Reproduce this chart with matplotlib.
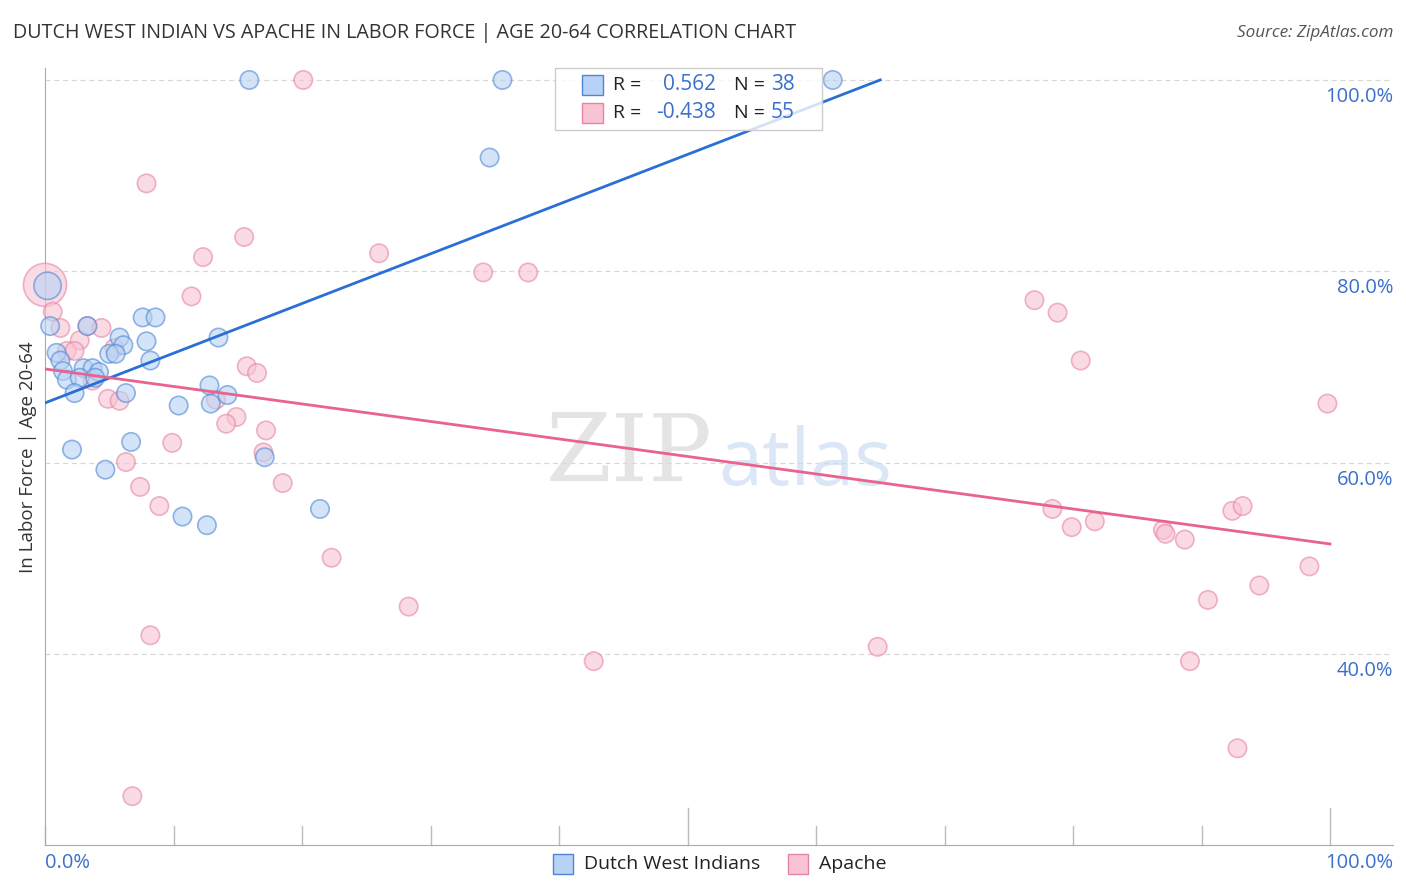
import matplotlib
matplotlib.use("Agg")
import matplotlib.pyplot as plt
import numpy as np
from matplotlib.patches import Rectangle

plt.rcParams['font.family'] = ['Open Sans', 'DejaVu Sans']

# ---- data (percent) ----
dwi_x = [15.9, 35.6, 61.3, 34.6, 0.2, 0.4, 3.3, 7.6, 8.6, 5.8, 7.9, 13.5, 6.1, 0.9,
         5.0, 5.5, 8.2, 1.2, 1.4, 3.0, 3.7, 4.2, 1.7, 2.7, 3.9, 2.3, 6.3, 12.8, 14.2,
         10.4, 12.9, 2.1, 6.7, 17.1, 4.7, 21.4, 10.7, 12.6]
dwi_y = [100.0, 100.0, 100.0, 91.9, 78.5, 74.3, 74.3, 75.2, 75.2, 73.1, 72.7, 73.1, 72.3, 71.5,
         71.4, 71.4, 70.7, 70.7, 69.6, 69.9, 69.9, 69.5, 68.7, 68.9, 68.9, 67.3, 67.3, 68.1, 67.1,
         66.0, 66.2, 61.4, 62.2, 60.6, 59.3, 55.2, 54.4, 53.5]
dwi_sizes = [1] * 38
dwi_sizes[4] = 2.2

apache_x = [20.1, 7.9, 15.5, 12.3, 26.0, 34.1, 37.6, 0.0, 11.4, 77.0, 78.8, 0.6, 1.2, 3.3,
            4.4, 2.7, 5.4, 1.7, 2.3, 80.6, 15.7, 16.5, 3.7, 4.9, 5.8, 13.3, 99.8, 14.9,
            14.1, 17.2, 9.9, 17.0, 6.3, 18.5, 7.4, 8.9, 78.4, 79.9, 81.7, 87.0, 87.2,
            88.7, 92.4, 93.2, 98.4, 22.3, 94.5, 90.5, 28.3, 8.2, 64.8, 42.7, 89.1, 92.8, 6.8]
apache_y = [100.0, 89.2, 83.6, 81.5, 81.9, 79.9, 79.9, 78.6, 77.4, 77.0, 75.7, 75.8, 74.1, 74.3,
            74.1, 72.8, 72.0, 71.7, 71.7, 70.7, 70.1, 69.4, 68.6, 66.7, 66.5, 66.6, 66.2, 64.8,
            64.1, 63.4, 62.1, 61.1, 60.1, 57.9, 57.5, 55.5, 55.2, 53.3, 53.9, 53.0, 52.6,
            52.0, 55.0, 55.5, 49.2, 50.1, 47.2, 45.7, 45.0, 42.0, 40.8, 39.3, 39.3, 30.2, 25.2]
apache_sizes = [1] * 55
apache_sizes[7] = 5.5

dwi_R, dwi_N = "0.562", "38"
ap_R, ap_N = "-0.438", "55"

# regression lines (intercept, slope) and x-extent
dwi_line = (66.27, 0.519, 65.0)
ap_line = (69.82, -0.1828, 100.0)

yticks = [40, 60, 80, 100]
ytick_labels = ["40.0%", "60.0%", "80.0%", "100.0%"]

W, H = 1406, 892
fig = plt.figure(figsize=(W / 100, H / 100), dpi=100)
L, R, B, T = 45, 1393, 845, 68
ax = fig.add_axes([L / W, (H - B) / H, (R - L) / W, (B - T) / H])
x_max = (R - L) / 12.85
ax.set_xlim(0, x_max)
ax.set_ylim(20.1, 101.25)

blue_face = '#b7d2f4'
blue_edge = '#4f86d4'
pink_face = '#f8c3d3'
pink_edge = '#e684a5'
base_s = 175

# watermark (behind data)
ax.text(713 / W, 1 - 455 / H, "ZIP", transform=fig.transFigure, ha='right', va='center',
        fontsize=68, color='#e4e4e4', family='DejaVu Serif', zorder=0)
ax.text(718 / W, 1 - 465 / H, "atlas", transform=fig.transFigure, ha='left', va='center',
        fontsize=57, color='#dbe7f6', zorder=0)

ax.scatter(apache_x, apache_y, s=np.array(apache_sizes) * base_s, facecolor=pink_face,
           edgecolor=pink_edge, alpha=0.6, linewidths=1.2, zorder=3, clip_on=False)
ax.scatter(dwi_x, dwi_y, s=np.array(dwi_sizes) * base_s, facecolor=blue_face,
           edgecolor=blue_edge, alpha=0.6, linewidths=1.2, zorder=4, clip_on=False)

bx = np.array([0, dwi_line[2]])
ax.plot(bx, dwi_line[0] + dwi_line[1] * bx, color='#2a6fd6', lw=2, zorder=5)
px = np.array([0, ap_line[2]])
ax.plot(px, ap_line[0] + ap_line[1] * px, color='#e8638f', lw=2, zorder=5)

# grid
for yv in yticks:
    ax.axhline(yv, color='#d8d8d8', lw=0.9, ls=(0, (4, 3)), zorder=1)
for yv, lab in zip(yticks, ytick_labels):
    ax.annotate(lab, xy=(1.0, yv), xycoords=('axes fraction', 'data'),
                xytext=(0, -17), textcoords='offset pixels', ha='right', va='center',
                fontsize=14.5, color='#3a70cc')

for s in ['top', 'right']:
    ax.spines[s].set_visible(False)
ax.spines['left'].set_color('#aaaaaa')
ax.spines['bottom'].set_color('#aaaaaa')
ax.set_yticks([])
ax.set_xticks([])
for i in range(11):
    xv = i * 10
    h = 37 if i in (5, 10) else 19
    ax.plot([xv, xv], [0, h / (B - T)], transform=ax.get_xaxis_transform(),
            color='#bbbbbb', lw=1, zorder=2, clip_on=False)

fig.text(45 / W, 1 - 863 / H, "0.0%", ha='left', va='center', fontsize=14.5, color='#3a70cc')
fig.text(1393 / W, 1 - 863 / H, "100.0%", ha='right', va='center', fontsize=14.5, color='#3a70cc')

fig.text(28 / W, 1 - 457 / H, "In Labor Force | Age 20-64", rotation=90, ha='center',
         va='center', fontsize=13.5, color='#333333')

fig.text(13 / W, 1 - 33 / H, "DUTCH WEST INDIAN VS APACHE IN LABOR FORCE | AGE 20-64 CORRELATION CHART",
         ha='left', va='center', fontsize=14.2, color='#333333')
fig.text(1393 / W, 1 - 33 / H, "Source: ZipAtlas.com", ha='right', va='center',
         fontsize=12.3, color='#555555', style='italic')

# top legend box
ax.add_patch(Rectangle((555 / W, 1 - 130 / H), 267 / W, 62 / H, transform=fig.transFigure,
                       facecolor='white', alpha=0.8, edgecolor='none', zorder=10,
                       clip_on=False))
ax.add_patch(Rectangle((555 / W, 1 - 130 / H), 267 / W, 62 / H, transform=fig.transFigure,
                       facecolor='none', edgecolor='#cccccc', lw=1, zorder=10, clip_on=False))
rows = [(85, blue_face, blue_edge, dwi_R, dwi_N), (113, pink_face, pink_edge, ap_R, ap_N)]
for yy, fc, ec, rv, nv in rows:
    ax.add_patch(Rectangle((582 / W, 1 - (yy + 10) / H), 21 / W, 20 / H,
                           transform=fig.transFigure, facecolor=fc, edgecolor=ec,
                           lw=1, zorder=11, clip_on=False))
    ax.text(613 / W, 1 - yy / H, "R =", transform=fig.transFigure, ha='left', va='center',
            fontsize=14, color='#222222', zorder=12)
    ax.text(716 / W, 1 - yy / H, rv, transform=fig.transFigure, ha='right', va='center',
            fontsize=15, color='#3a70cc', zorder=12)
    ax.text(734 / W, 1 - yy / H, "N =", transform=fig.transFigure, ha='left', va='center',
            fontsize=14, color='#222222', zorder=12)
    ax.text(771 / W, 1 - yy / H, nv, transform=fig.transFigure, ha='left', va='center',
            fontsize=15, color='#3a70cc', zorder=12)

# bottom legend
for x0, fc, ec, lab in [(553, blue_face, blue_edge, "Dutch West Indians"),
                        (788, pink_face, pink_edge, "Apache")]:
    fig.patches.append(Rectangle((x0 / W, 1 - 874 / H), 20 / W, 20 / H, transform=fig.transFigure,
                                 facecolor=fc, edgecolor=ec, lw=1))
    fig.text((x0 + 31) / W, 1 - 864 / H, lab, ha='left', va='center', fontsize=14, color='#222222')

fig.savefig("out.png", dpi=100)
